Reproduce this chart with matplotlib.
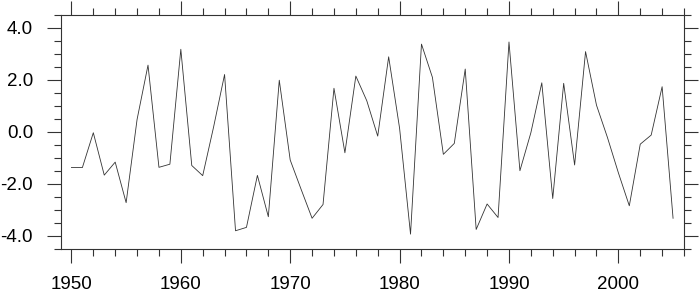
import numpy as np
import matplotlib
matplotlib.use("Agg")
import matplotlib.pyplot as plt
from matplotlib.ticker import MultipleLocator, FormatStrFormatter

# -----------------------------------------------------
# Data
# -----------------------------------------------------
years = list(range(1950, 2006))
values = [
    -1.38, -1.38, -0.04, -1.67, -1.17, -2.73, 0.47, 2.56, -1.37, -1.25,
    3.17, -1.30, -1.69, 0.19, 2.20, -3.81, -3.68, -1.68, -3.27, 1.98,
    -1.09, -2.22, -3.33, -2.80, 1.67, -0.81, 2.14, 1.19, -0.17, 2.88,
    0.13, -3.94, 3.37, 2.09, -0.87, -0.45, 2.41, -3.76, -2.78, -3.30,
    3.45, -1.50, -0.04, 1.88, -2.57, 1.86, -1.28, 3.08, 1.02, -0.22,
    -1.58, -2.85, -0.48, -0.13, 1.73, -3.33,
]

plt.rcParams["font.family"] = ["Liberation Sans", "DejaVu Sans"]
plt.rcParams["axes.unicode_minus"] = False

fig = plt.figure(figsize=(7.0, 2.93), dpi=100)
ax = fig.add_axes([60.5 / 700, 44.3 / 293, 623.5 / 700, 234.0 / 293])

ax.plot(years, values, color="#333333", linewidth=0.6)

ax.set_xlim(1949, 2006)
ax.set_ylim(-4.5, 4.5)

ax.xaxis.set_major_locator(MultipleLocator(10))
ax.xaxis.set_minor_locator(MultipleLocator(2))
ax.yaxis.set_major_locator(MultipleLocator(2))
ax.yaxis.set_minor_locator(MultipleLocator(0.5))
ax.yaxis.set_major_formatter(FormatStrFormatter("%.1f"))

# tick lengths in points (px * 0.72)
ax.tick_params(which="both", direction="out", top=True, right=True,
               color="#333333", width=0.8)
ax.tick_params(which="major", length=10.3, labelsize=13.5)
ax.tick_params(which="minor", length=5.2)
ax.tick_params(axis="x", which="major", pad=9)
ax.tick_params(axis="y", which="major", pad=9.5)

for s in ax.spines.values():
    s.set_linewidth(0.8)
    s.set_color("#333333")

fig.savefig("out.png", dpi=100)
